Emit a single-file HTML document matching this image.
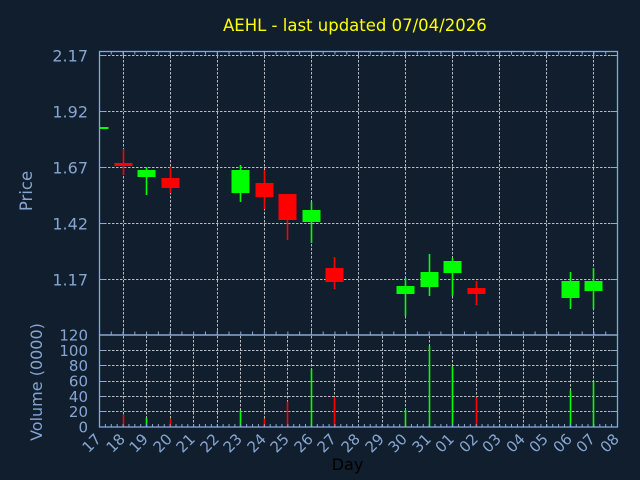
<!DOCTYPE html>
<html>
<head>
<meta charset="utf-8">
<style>
html,body{margin:0;padding:0;background:#111e2e;}
svg{display:block;}
text{font-family:"DejaVu Sans","Liberation Sans",sans-serif;}
</style>
</head>
<body>
<svg width="640" height="480" viewBox="0 0 640 480" xmlns="http://www.w3.org/2000/svg">
<defs>
<clipPath id="pc"><rect x="99.5" y="52" width="517.5" height="283"/></clipPath>
</defs>
<rect x="0" y="0" width="640" height="480" fill="#111e2e"/>

<!-- title -->
<text x="223" y="31" font-size="16.5" fill="#ffff00">AEHL - last updated 07/04/2026</text>

<!-- price gridlines -->
<g stroke="#bbbbbb" stroke-width="1" stroke-dasharray="2.5,1.5" fill="none">
<line x1="100" y1="55.5" x2="617" y2="55.5"/>
<line x1="100" y1="111.5" x2="617" y2="111.5"/>
<line x1="100" y1="167.5" x2="617" y2="167.5"/>
<line x1="100" y1="223.5" x2="617" y2="223.5"/>
<line x1="100" y1="279.5" x2="617" y2="279.5"/>
<line x1="123.5" y1="52" x2="123.5" y2="335"/>
<line x1="170.5" y1="52" x2="170.5" y2="335"/>
<line x1="217.5" y1="52" x2="217.5" y2="335"/>
<line x1="264.5" y1="52" x2="264.5" y2="335"/>
<line x1="311.5" y1="52" x2="311.5" y2="335"/>
<line x1="358.5" y1="52" x2="358.5" y2="335"/>
<line x1="405.5" y1="52" x2="405.5" y2="335"/>
<line x1="452.5" y1="52" x2="452.5" y2="335"/>
<line x1="499.5" y1="52" x2="499.5" y2="335"/>
<line x1="546.5" y1="52" x2="546.5" y2="335"/>
<line x1="593.5" y1="52" x2="593.5" y2="335"/>
</g>

<!-- volume gridlines -->
<g stroke="#bbbbbb" stroke-width="1" stroke-dasharray="2.5,1.5" fill="none">
<line x1="100" y1="350.5" x2="617" y2="350.5"/>
<line x1="100" y1="365.5" x2="617" y2="365.5"/>
<line x1="100" y1="381.5" x2="617" y2="381.5"/>
<line x1="100" y1="396.5" x2="617" y2="396.5"/>
<line x1="100" y1="411.5" x2="617" y2="411.5"/>
<line x1="123.5" y1="336" x2="123.5" y2="427"/>
<line x1="146.5" y1="336" x2="146.5" y2="427"/>
<line x1="170.5" y1="336" x2="170.5" y2="427"/>
<line x1="193.5" y1="336" x2="193.5" y2="427"/>
<line x1="217.5" y1="336" x2="217.5" y2="427"/>
<line x1="240.5" y1="336" x2="240.5" y2="427"/>
<line x1="264.5" y1="336" x2="264.5" y2="427"/>
<line x1="287.5" y1="336" x2="287.5" y2="427"/>
<line x1="311.5" y1="336" x2="311.5" y2="427"/>
<line x1="334.5" y1="336" x2="334.5" y2="427"/>
<line x1="358.5" y1="336" x2="358.5" y2="427"/>
<line x1="382.5" y1="336" x2="382.5" y2="427"/>
<line x1="405.5" y1="336" x2="405.5" y2="427"/>
<line x1="429.5" y1="336" x2="429.5" y2="427"/>
<line x1="452.5" y1="336" x2="452.5" y2="427"/>
<line x1="476.5" y1="336" x2="476.5" y2="427"/>
<line x1="499.5" y1="336" x2="499.5" y2="427"/>
<line x1="523.5" y1="336" x2="523.5" y2="427"/>
<line x1="546.5" y1="336" x2="546.5" y2="427"/>
<line x1="570.5" y1="336" x2="570.5" y2="427"/>
<line x1="593.5" y1="336" x2="593.5" y2="427"/>
</g>

<!-- candles -->
<g clip-path="url(#pc)">
<g stroke-width="1.6">
<line x1="123.5" y1="149" x2="123.5" y2="175" stroke="#ff0000"/>
<line x1="146.5" y1="167" x2="146.5" y2="195" stroke="#00ff00"/>
<line x1="170.5" y1="167" x2="170.5" y2="193" stroke="#ff0000"/>
<line x1="240.5" y1="165" x2="240.5" y2="202" stroke="#00ff00"/>
<line x1="264.5" y1="170" x2="264.5" y2="209" stroke="#ff0000"/>
<line x1="287.5" y1="194" x2="287.5" y2="240" stroke="#ff0000"/>
<line x1="311.5" y1="202" x2="311.5" y2="243" stroke="#00ff00"/>
<line x1="334.5" y1="257" x2="334.5" y2="289" stroke="#ff0000"/>
<line x1="405.5" y1="278" x2="405.5" y2="316" stroke="#00ff00"/>
<line x1="429.5" y1="254" x2="429.5" y2="296" stroke="#00ff00"/>
<line x1="452.5" y1="258" x2="452.5" y2="296" stroke="#00ff00"/>
<line x1="476.5" y1="281" x2="476.5" y2="305" stroke="#ff0000"/>
<line x1="570.5" y1="272" x2="570.5" y2="309" stroke="#00ff00"/>
<line x1="593.5" y1="268" x2="593.5" y2="309" stroke="#00ff00"/>
</g>
<rect x="90.5" y="127" width="18" height="2" fill="#00ff00"/>
<rect x="114.5" y="163" width="18" height="3" fill="#ff0000"/>
<rect x="137.5" y="170" width="18" height="7" fill="#00ff00"/>
<rect x="161.5" y="178" width="18" height="10" fill="#ff0000"/>
<rect x="231.5" y="170" width="18" height="23" fill="#00ff00"/>
<rect x="255.5" y="183" width="18" height="14" fill="#ff0000"/>
<rect x="278.5" y="194" width="18" height="26" fill="#ff0000"/>
<rect x="302.5" y="210" width="18" height="12" fill="#00ff00"/>
<rect x="325.5" y="268" width="18" height="14" fill="#ff0000"/>
<rect x="396.5" y="286" width="18" height="8" fill="#00ff00"/>
<rect x="420.5" y="272" width="18" height="15" fill="#00ff00"/>
<rect x="443.5" y="261" width="18" height="12" fill="#00ff00"/>
<rect x="467.5" y="288" width="18" height="6" fill="#ff0000"/>
<rect x="561.5" y="281" width="18" height="17" fill="#00ff00"/>
<rect x="584.5" y="281" width="18" height="10" fill="#00ff00"/>
</g>

<!-- volume bars -->
<g stroke-width="1.6">
<line x1="123.5" y1="415" x2="123.5" y2="427" stroke="#ff0000"/>
<line x1="146.5" y1="418" x2="146.5" y2="427" stroke="#00ff00"/>
<line x1="170.5" y1="419" x2="170.5" y2="427" stroke="#ff0000"/>
<line x1="240.5" y1="410.5" x2="240.5" y2="427" stroke="#00ff00"/>
<line x1="264.5" y1="418.5" x2="264.5" y2="427" stroke="#ff0000"/>
<line x1="287.5" y1="401.5" x2="287.5" y2="427" stroke="#ff0000"/>
<line x1="311.5" y1="369" x2="311.5" y2="427" stroke="#00ff00"/>
<line x1="334.5" y1="397" x2="334.5" y2="427" stroke="#ff0000"/>
<line x1="405.5" y1="410" x2="405.5" y2="427" stroke="#00ff00"/>
<line x1="429.5" y1="346" x2="429.5" y2="427" stroke="#00ff00"/>
<line x1="452.5" y1="366.5" x2="452.5" y2="427" stroke="#00ff00"/>
<line x1="476.5" y1="397.5" x2="476.5" y2="427" stroke="#ff0000"/>
<line x1="570.5" y1="390.5" x2="570.5" y2="427" stroke="#00ff00"/>
<line x1="593.5" y1="381.5" x2="593.5" y2="427" stroke="#00ff00"/>
</g>

<!-- axes frames -->
<g stroke="#88a8d6" stroke-width="1.3" fill="none">
<rect x="99.5" y="51.5" width="518" height="283.5"/>
<rect x="99.5" y="335" width="518" height="92"/>
</g>

<!-- ticks -->
<g stroke="#88a8d6" fill="none">
<line x1="99" y1="53" x2="617.5" y2="53" stroke-width="3" stroke-dasharray="1,10.7727"/>
<line x1="99" y1="333" x2="617.5" y2="333" stroke-width="3" stroke-dasharray="1,10.7727"/>
<line x1="99" y1="425.5" x2="617.5" y2="425.5" stroke-width="3" stroke-dasharray="1,4.886"/>
<g stroke-width="1">
<path d="M123.5 52v4M170.5 52v4M217.5 52v4M264.5 52v4M311.5 52v4M358.5 52v4M405.5 52v4M452.5 52v4M499.5 52v4M546.5 52v4M593.5 52v4"/>
<path d="M123.5 335v-5M170.5 335v-5M217.5 335v-5M264.5 335v-5M311.5 335v-5M358.5 335v-5M405.5 335v-5M452.5 335v-5M499.5 335v-5M546.5 335v-5M593.5 335v-5"/>
<path d="M617 55.5h-6M617 111.5h-6M617 167.5h-6M617 223.5h-6M617 279.5h-6"/>
<path d="M100 55.5h5M100 111.5h5M100 167.5h5M100 223.5h5M100 279.5h5"/>
<path d="M617 350.5h-6M617 365.5h-6M617 381.5h-6M617 396.5h-6M617 411.5h-6"/>
<path d="M100 350.5h5M100 365.5h5M100 381.5h5M100 396.5h5M100 411.5h5"/>
</g>
</g>

<!-- price tick labels -->
<g font-size="16" fill="#86a6d2" text-anchor="end">
<text x="88" y="61.5">2.17</text>
<text x="88" y="117.5">1.92</text>
<text x="88" y="173.5">1.67</text>
<text x="88" y="229.5">1.42</text>
<text x="88" y="285.5">1.17</text>
</g>

<!-- volume tick labels -->
<g font-size="15" fill="#86a6d2" text-anchor="end">
<text x="88" y="340.5">120</text>
<text x="88" y="355.8">100</text>
<text x="88" y="371.2">80</text>
<text x="88" y="386.5">60</text>
<text x="88" y="401.8">40</text>
<text x="88" y="417.2">20</text>
<text x="88" y="432.5">0</text>
</g>

<!-- y labels -->
<text transform="translate(32,191) rotate(-90)" font-size="16.5" fill="#86a6d2" text-anchor="middle">Price</text>
<text transform="translate(42,382) rotate(-90)" font-size="16" fill="#86a6d2" text-anchor="middle">Volume (0000)</text>

<!-- x tick labels -->
<g font-size="15" fill="#86a6d2" text-anchor="end">
<text transform="translate(102,440) rotate(-45)">17</text>
<text transform="translate(126,440) rotate(-45)">18</text>
<text transform="translate(149,440) rotate(-45)">19</text>
<text transform="translate(173,440) rotate(-45)">20</text>
<text transform="translate(196,440) rotate(-45)">21</text>
<text transform="translate(220,440) rotate(-45)">22</text>
<text transform="translate(243,440) rotate(-45)">23</text>
<text transform="translate(267,440) rotate(-45)">24</text>
<text transform="translate(290,440) rotate(-45)">25</text>
<text transform="translate(314,440) rotate(-45)">26</text>
<text transform="translate(337,440) rotate(-45)">27</text>
<text transform="translate(361,440) rotate(-45)">28</text>
<text transform="translate(385,440) rotate(-45)">29</text>
<text transform="translate(408,440) rotate(-45)">30</text>
<text transform="translate(432,440) rotate(-45)">31</text>
<text transform="translate(455,440) rotate(-45)">01</text>
<text transform="translate(479,440) rotate(-45)">02</text>
<text transform="translate(502,440) rotate(-45)">03</text>
<text transform="translate(526,440) rotate(-45)">04</text>
<text transform="translate(549,440) rotate(-45)">05</text>
<text transform="translate(573,440) rotate(-45)">06</text>
<text transform="translate(596,440) rotate(-45)">07</text>
<text transform="translate(620,440) rotate(-45)">08</text>
</g>

<!-- x label -->
<text x="347.5" y="470" font-size="16" fill="#000000" text-anchor="middle">Day</text>
</svg>
</body>
</html>
